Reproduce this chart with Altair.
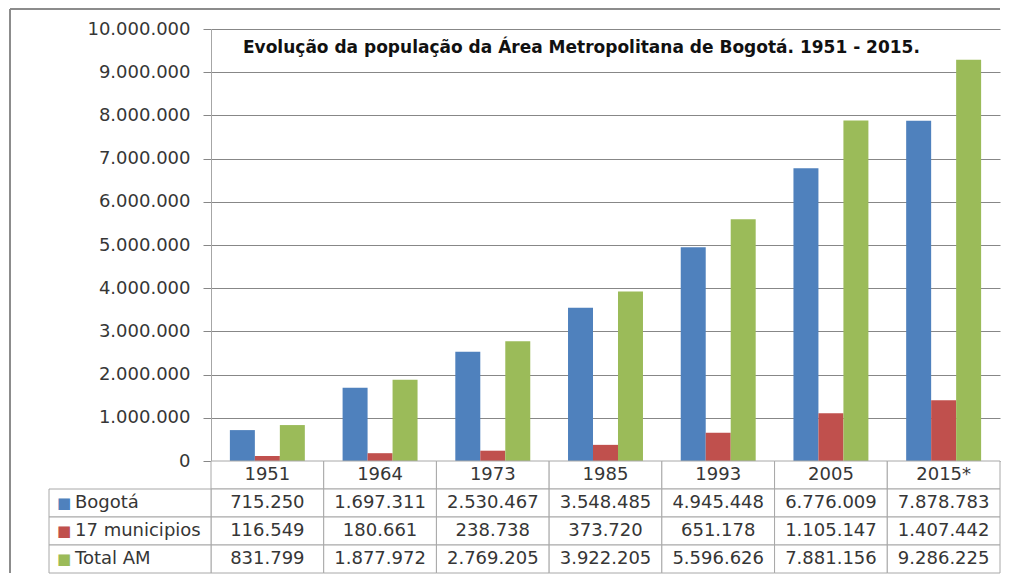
import altair as alt
import pandas as pd

years = ["1951", "1964", "1973", "1985", "1993", "2005", "2015*"]
series = ["Bogotá", "17 municipios", "Total AM"]
bogota = [715250, 1697311, 2530467, 3548485, 4945448, 6776009, 7878783]
municipios = [116549, 180661, 238738, 373720, 651178, 1105147, 1407442]
total_am = [831799, 1877972, 2769205, 3922205, 5596626, 7881156, 9286225]
colors = ["#4F81BD", "#C0504D", "#9BBB59"]
y_ticks = [0, 1000000, 2000000, 3000000, 4000000, 5000000,
           6000000, 7000000, 8000000, 9000000, 10000000]
title_text = "Evolução da população da Área Metropolitana de Bogotá. 1951 - 2015."

FONT = "DejaVu Sans"
TXT = "#363636"
GRID = "#878787"
BORDER = "#a8a8a8"
W, H, TH = 789, 432, 112

rows = []
for name, vals in zip(series, [bogota, municipios, total_am]):
    for yr, v in zip(years, vals):
        rows.append({"year": yr, "serie": name, "value": v})
df = pd.DataFrame(rows)
header = pd.DataFrame({"year": years, "serie": ["header"] * len(years), "value": [0] * len(years)})
cells = pd.concat([header, df], ignore_index=True)
row_order = ["header"] + series

fmt = "join(split(format(datum.value, ','), ','), '.')"

# ---- top: grouped bars ----
bars = alt.Chart(df).mark_bar().encode(
    x=alt.X("year:N", sort=years, axis=None,
            scale=alt.Scale(paddingInner=0.335, paddingOuter=0.1675)),
    xOffset=alt.XOffset("serie:N", sort=series,
                        scale=alt.Scale(paddingInner=0, paddingOuter=0)),
    y=alt.Y("value:Q", scale=alt.Scale(domain=[0, 10000000], nice=False),
            axis=alt.Axis(values=y_ticks, labelExpr=fmt, title=None, grid=True,
                          gridColor=GRID, domainColor="#a6a6a6", tickColor=GRID,
                          tickSize=8, labelPadding=13, labelFont=FONT,
                          labelFontSize=18, labelColor=TXT)),
    color=alt.Color("serie:N", sort=series,
                    scale=alt.Scale(domain=series, range=colors), legend=None),
)

frame_df = pd.DataFrame({"k": [0]})
frame_left = alt.Chart(frame_df).mark_rule(color="#8c8c8c", strokeWidth=2).encode(
    x=alt.value(-201), y=alt.value(-20), y2=alt.value(H + TH))
frame_top = alt.Chart(frame_df).mark_rule(color="#8c8c8c", strokeWidth=2).encode(
    x=alt.value(-201), x2=alt.value(W), y=alt.value(-20))

title_df = pd.DataFrame({"t": [title_text]})
title_mark = alt.Chart(title_df).mark_text(
    align="left", baseline="alphabetic", font=FONT, fontSize=17,
    fontWeight="bold", color="#111111").encode(
    x=alt.value(32), y=alt.value(24), text="t:N")

top = alt.layer(bars, frame_left, frame_top, title_mark).properties(width=W, height=H)

# ---- bottom: data table ----
x_tab = alt.X("year:N", sort=years, axis=None,
              scale=alt.Scale(paddingInner=0, paddingOuter=0))
y_tab = alt.Y("serie:N", sort=row_order, axis=None,
              scale=alt.Scale(domain=row_order, paddingInner=0, paddingOuter=0))

cell_rect = alt.Chart(cells).mark_rect(fill="white", stroke=BORDER, strokeWidth=1).encode(
    x=x_tab, y=y_tab)
cell_text = alt.Chart(cells).transform_calculate(
    label="datum.serie == 'header' ? datum.year : " + fmt
).mark_text(font=FONT, fontSize=18, color=TXT).encode(x=x_tab, y=y_tab, text="label:N")

legend_df = pd.DataFrame({"serie": series})
leg_scale = alt.Scale(domain=["lab"], range=[-162, 0], paddingInner=0, paddingOuter=0)
leg_rect = alt.Chart(legend_df).transform_calculate(col="'lab'").mark_rect(
    fill="white", stroke=BORDER, strokeWidth=1).encode(
    x=alt.X("col:N", scale=leg_scale, axis=None), y=y_tab)
leg_sq = alt.Chart(legend_df).transform_calculate(col="'lab'").mark_text(
    text="■", align="left", dx=-73, font=FONT, fontSize=15).encode(
    x=alt.X("col:N", scale=leg_scale, axis=None), y=y_tab,
    color=alt.Color("serie:N", scale=alt.Scale(domain=series, range=colors), legend=None))
leg_txt = alt.Chart(legend_df).transform_calculate(col="'lab'").mark_text(
    align="left", dx=-55, font=FONT, fontSize=18, color=TXT).encode(
    x=alt.X("col:N", scale=leg_scale, axis=None), y=y_tab, text="serie:N")

table = alt.layer(cell_rect, cell_text, leg_rect, leg_sq, leg_txt).resolve_scale(
    x="independent").properties(width=W, height=TH)

chart = alt.vconcat(top, table, spacing=0, bounds="flush").properties(
    padding={"left": 1, "top": 0, "right": 0, "bottom": 0}
).configure_view(stroke=None)

chart.save("out.html", embed_options={"renderer": "svg", "actions": False})
